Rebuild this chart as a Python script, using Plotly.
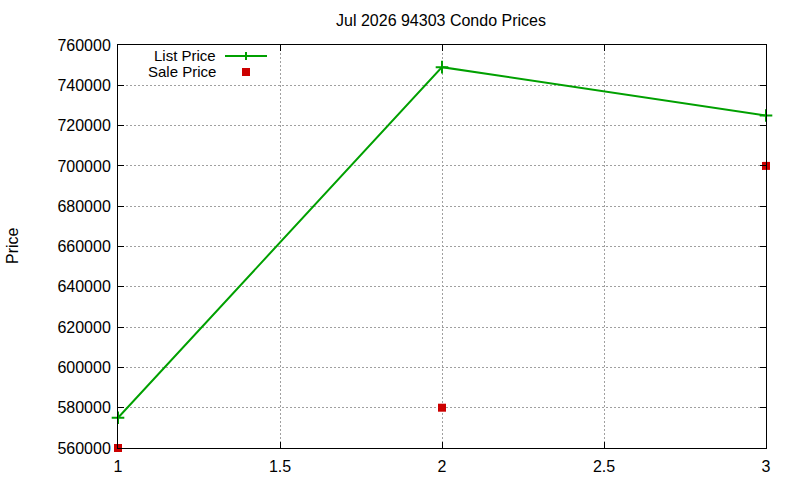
import plotly.graph_objects as go

x_vals = [1, 2, 3]
list_price = [575000, 749000, 725000]
sale_price = [560000, 580000, 700000]
title = "Jul 2026 94303 Condo Prices"
y_title = "Price"
series_names = ["List Price", "Sale Price"]
x_ticks = [1, 1.5, 2, 2.5, 3]
x_ticktext = ["1", "1.5", "2", "2.5", "3"]

GREEN = "#00a000"
RED = "#cc0000"
L, R, T, B = 118, 34, 45, 32
W, H = 800, 480
pw, ph = W - L - R, H - T - B

def px(xp):
    return (xp - L) / pw

def py(yp):
    return (H - B - yp) / ph

FAM = "Liberation Sans, Arial, sans-serif"
font = dict(family=FAM, size=16, color="black")
legend_font = dict(family=FAM, size=15, color="black")

fig = go.Figure()
fig.add_trace(go.Scatter(x=x_vals, y=list_price, mode="lines+markers", name=series_names[0],
                         line=dict(color=GREEN, width=2),
                         marker=dict(symbol="cross-thin", size=9, line=dict(color=GREEN, width=2)),
                         cliponaxis=False))
fig.add_trace(go.Scatter(x=x_vals, y=sale_price, mode="markers", name=series_names[1],
                         marker=dict(symbol="square", size=8, color=RED),
                         cliponaxis=False))

axis_common = dict(showline=True, linecolor="black", linewidth=1, mirror="ticks",
                   ticks="inside", ticklen=6, tickcolor="black",
                   showgrid=True, gridcolor="#a0a0a0", griddash="2px,2px", gridwidth=1,
                   zeroline=False, tickfont=font, automargin=False)
fig.update_layout(
    width=W, height=H, margin=dict(l=L, r=R, t=T, b=B, autoexpand=False),
    paper_bgcolor="white", plot_bgcolor="white", showlegend=False,
    font=font,
    title=dict(text=title, xref="container", x=441 / W, xanchor="center",
               yref="container", y=1 - 20 / H, yanchor="middle", font=font),
    xaxis=dict(range=[1, 3], tickvals=x_ticks, ticktext=x_ticktext, ticklabelstandoff=4, **axis_common),
    yaxis=dict(range=[560000, 760000], dtick=20000, tickformat="d", ticklabelstandoff=3, **axis_common),
)

fig.add_annotation(x=px(12), y=py(246), xref="paper", yref="paper", text=y_title, textangle=-90,
                   showarrow=False, xanchor="center", yanchor="middle", font=font)

# legend (gnuplot style: text right, sample left)
fig.add_annotation(x=px(218), y=py(55), xref="paper", yref="paper", text=series_names[0],
                   showarrow=False, xanchor="right", yanchor="middle", font=legend_font)
fig.add_annotation(x=px(218), y=py(72), xref="paper", yref="paper", text=series_names[1],
                   showarrow=False, xanchor="right", yanchor="middle", font=legend_font)
fig.add_shape(type="line", xref="paper", yref="paper", x0=px(225), x1=px(267), y0=py(56), y1=py(56),
              line=dict(color=GREEN, width=2))
fig.add_shape(type="line", xref="paper", yref="paper", x0=px(246), x1=px(246), y0=py(52), y1=py(60),
              line=dict(color=GREEN, width=2))
fig.add_shape(type="rect", xref="paper", yref="paper", x0=px(242), x1=px(250), y0=py(68), y1=py(76),
              line=dict(width=0), fillcolor=RED)

fig.write_html("out.html", config={"displayModeBar": False},
               post_script="document.body.style.margin='0';document.body.style.overflow='hidden';")
